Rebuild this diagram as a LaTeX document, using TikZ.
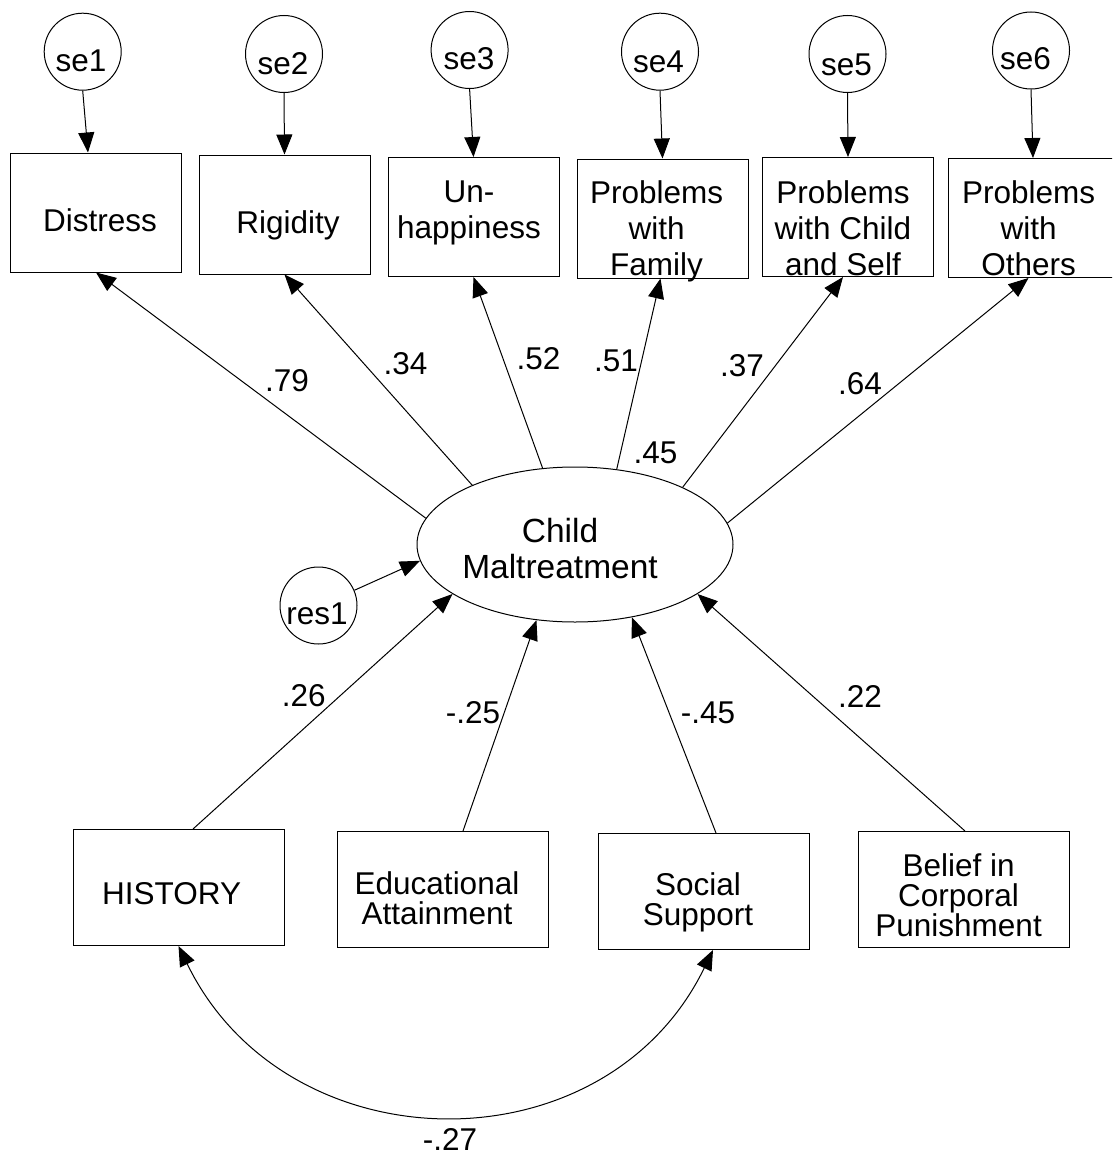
\documentclass[tikz,border=0pt]{standalone}
\usepackage{fontspec}
\setmainfont{Liberation Sans}
\usetikzlibrary{arrows.meta,shapes.geometric}
\begin{document}
\begin{tikzpicture}[x=1pt,y=-1pt,
  line width=1pt,
  box/.style={draw, rectangle, inner sep=0pt, minimum width=171pt, minimum height=119pt},
  lbox/.style={draw, rectangle, inner sep=0pt, minimum width=211pt, minimum height=116pt},
  err/.style={draw, circle, inner sep=0pt, minimum size=77pt},
  lat/.style={draw, ellipse, inner sep=0pt, minimum width=316pt, minimum height=155pt},
  txt/.style={inner sep=0pt, anchor=north, align=center, font=\fontsize{31.5}{36}\selectfont},
  ltxt/.style={inner sep=0pt, anchor=north, align=center, font=\fontsize{31.5}{30}\selectfont},
  etxt/.style={inner sep=0pt, anchor=north, align=center, font=\fontsize{33.5}{36}\selectfont},
  coef/.style={inner sep=0pt, font=\fontsize{31.5}{36}\selectfont},
  arr/.style={-{Triangle[length=20pt,width=16pt]}},
  darr/.style={{Triangle[length=20pt,width=16pt]}-{Triangle[length=20pt,width=16pt]}},
]
\useasboundingbox (0,0) rectangle (1112,1156);
\clip (0,0) rectangle (1112,1156);

% error circles
\node[err] (se1) at (82.7,51.7) {};
\node[err] (se2) at (284,54) {};
\node[err] (se3) at (469.6,50) {};
\node[err] (se4) at (660,51.7) {};
\node[err] (se5) at (847.5,54) {};
\node[err] (se6) at (1031,50.5) {};
\node[txt] (se1t) at (80.9,49) {se1};
\node[txt] (se2t) at (283,52) {se2};
\node[txt] (se3t) at (469,47) {se3};
\node[txt] (se4t) at (658.4,50) {se4};
\node[txt] (se5t) at (846.6,53) {se5};
\node[txt] (se6t) at (1025.5,47) {se6};

% indicator boxes
\node[box] (dist) at (96,212.5) {};
\node[box] (rig) at (284.5,214.5) {};
\node[box] (unh) at (473.5,217) {};
\node[box] (fam) at (662.5,218.5) {};
\node[box] (chs) at (848,217) {};
\node[box] (oth) at (1033.5,218) {};
\node[txt] (distt) at (100,208) {Distress};
\node[txt] (rigt) at (288,210) {Rigidity};
\node[txt] (unht) at (469,180) {Un-\\happiness};
\node[txt] (famt) at (656.6,180) {Problems\\with\\Family};
\node[txt] (chst) at (843,180) {Problems\\with Child\\and Self};
\node[txt] (otht) at (1028.6,180) {Problems\\with\\Others};

% latent
\node[lat] (cm) at (575,544.5) {};
\node[etxt] (cmt) at (560,518) {Child\\Maltreatment};

% residual
\node[err] (res1) at (318.5,605.5) {};
\node[txt] (res1t) at (317,602) {res1};

% predictors
\node[lbox] (hist) at (178.5,887.5) {};
\node[lbox] (edu) at (443,889.5) {};
\node[lbox] (soc) at (703.5,891.5) {};
\node[lbox] (bel) at (964,889.5) {};
\node[ltxt] (histt) at (171.6,882) {HISTORY};
\node[ltxt] (edut) at (437,871) {Educational\\Attainment};
\node[ltxt] (soct) at (698,872) {Social\\Support};
\node[ltxt] (belt) at (958.6,853) {Belief in\\Corporal\\Punishment};

% error arrows
\draw[arr] (se1.south) -- ([xshift=-8pt]dist.north);
\draw[arr] (se2.south) -- (rig.north);
\draw[arr] (se3.south) -- (unh.north);
\draw[arr] (se4.south) -- (fam.north);
\draw[arr] (se5.south) -- (chs.north);
\draw[arr] (se6.south) -- ([xshift=-0.5pt]oth.north);

% loadings
\draw[arr] (cm.170.9) -- (dist.south);
\draw[arr] (cm.150.7) -- (rig.south);
\draw[arr] (cm.113) -- (unh.south);
\draw[arr] (cm.61.5) -- ([xshift=-2pt]fam.south);
\draw[arr] (cm.28) -- ([xshift=-5pt]chs.south);
\draw[arr] (cm.8.4) -- ([xshift=-5pt]oth.south);

% residual arrow
\draw[arr] (res1.23) -- (cm.186.4);

% structural paths
\draw[arr] ([xshift=14.5pt]hist.north) -- (cm.202.8);
\draw[arr] ([xshift=20pt]edu.north) -- (cm.243.3);
\draw[arr] ([xshift=12.5pt]soc.north) -- (cm.308.2);
\draw[arr] ([xshift=1pt]bel.north) -- (cm.338.9);

% covariance
\draw[darr] (hist.south) .. controls +(108,222) and +(-108,222) .. ([xshift=9.5pt]soc.south);

% coefficients
\node[coef] (c79) at (287,381) {.79};
\node[coef] (c34) at (405.5,364) {.34};
\node[coef] (c52) at (538.5,359) {.52};
\node[coef] (c51) at (616,361) {.51};
\node[coef] (c37) at (742,366) {.37};
\node[coef] (c64) at (860,383.5) {.64};
\node[coef] (c45) at (655.5,453) {.45};
\node[coef] (c26) at (303.7,696) {.26};
\node[coef] (c25) at (473,713) {-.25};
\node[coef] (c45b) at (708,712.5) {-.45};
\node[coef] (c22) at (860,696) {.22};
\node[coef] (c27) at (450,1139.5) {-.27};
\end{tikzpicture}
\end{document}
